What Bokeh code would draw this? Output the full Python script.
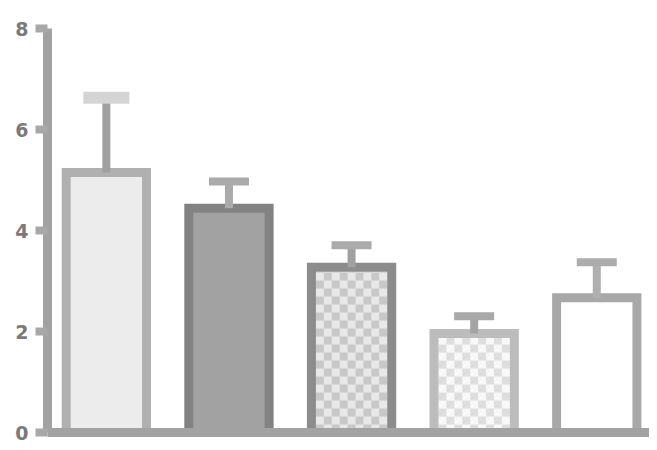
import numpy as np
from bokeh.plotting import figure
from bokeh.models import Range1d, FixedTicker
from bokeh.embed import file_html
from bokeh.resources import INLINE

# ---- data ----
groups = [0, 1, 2, 3, 4]
means = [5.15, 4.44, 3.27, 1.96, 2.67]
uppers = [6.63, 4.97, 3.71, 2.30, 3.37]
y_ticks = [0, 2, 4, 6, 8]

styles = [
    dict(fill="#ececec", line="#b0b0b0", checker=None),
    dict(fill="#a2a2a2", line="#828282", checker=None),
    dict(fill="#e8e8e8", line="#8c8c8c", checker="#c8c8c8"),
    dict(fill="#f8f8f8", line="#bcbcbc", checker="#dedede"),
    dict(fill="#ffffff", line="#a8a8a8", checker=None),
]
stem_colors = ["#a0a0a0", "#ababab", "#a0a0a0", "#a4a4a4", "#b0b0b0"]
cap_colors = ["#d4d4d4", "#ababab", "#ababab", "#a8a8a8", "#acacac"]
cap_w = [46, 40, 40, 40, 40]
cap_h = [12, 8, 8, 8, 8]

X0, X1 = -0.48, 4.43
W, H = 649, 446
LEFT, TOP, BOTTOM = 47, 28, 14
px_x = (W - LEFT) / (X1 - X0)          # pixels per x unit
px_y = (H - TOP - BOTTOM) / 8.0        # pixels per y unit
BAR_W = 0.655
LW = 9

p = figure(width=W, height=H, output_backend="svg", toolbar_location=None,
           x_range=Range1d(X0, X1), y_range=Range1d(0, 8),
           min_border_left=LEFT, min_border_right=0, min_border_top=TOP, min_border_bottom=BOTTOM)
p.outline_line_color = None
p.grid.visible = False

cell = 8.0
for i in groups:
    s = styles[i]
    p.vbar(x=[groups[i]], top=[means[i]], bottom=0, width=BAR_W,
           fill_color=s["fill"], line_color=None)
    if s["checker"]:
        cw, ch = cell / px_x, cell / px_y
        inner_half = BAR_W / 2 - (LW / 2) / px_x
        inner_top = means[i] - (LW / 2) / px_y
        ncol = int(round(2 * inner_half / cw))
        cw = 2 * inner_half / ncol
        nrow = int(np.ceil(inner_top / ch))
        xs, ys, hs = [], [], []
        for r in range(nrow):
            yb = r * ch
            yt = min((r + 1) * ch, inner_top)
            for c in range(ncol):
                if (r + c) % 2 == 0:
                    xs.append(groups[i] - inner_half + (c + 0.5) * cw)
                    ys.append((yb + yt) / 2)
                    hs.append(yt - yb)
        p.rect(x=xs, y=ys, width=cw, height=hs, fill_color=s["checker"], line_color=None)
    p.vbar(x=[groups[i]], top=[means[i]], bottom=0, width=BAR_W,
           fill_color=None, line_color=s["line"], line_width=LW, line_join="miter")
    p.segment(x0=[groups[i]], y0=[means[i]], x1=[groups[i]], y1=[uppers[i]],
              line_color=stem_colors[i], line_width=8)
    p.rect(x=[groups[i]], y=[uppers[i]], width=cap_w[i], height=cap_h[i], width_units="screen",
           height_units="screen", fill_color=cap_colors[i], line_color=None)

ya = p.yaxis[0]
ya.ticker = FixedTicker(ticks=y_ticks)
ya.axis_line_color = "#a2a2a2"
ya.axis_line_width = 9
ya.major_tick_line_color = "#a8a8a8"
ya.major_tick_line_width = 8
ya.major_tick_out = 12
ya.major_tick_in = 0
ya.minor_tick_line_color = None
ya.major_label_text_font = "DejaVu Sans"
ya.major_label_text_font_size = "19px"
ya.major_label_text_font_style = "bold"
ya.major_label_text_color = "#7a7a7a"
ya.major_label_standoff = 7

xa = p.xaxis[0]
xa.ticker = FixedTicker(ticks=[])
xa.axis_line_color = "#a2a2a2"
xa.axis_line_width = 9
xa.major_tick_line_color = None
xa.minor_tick_line_color = None
xa.major_label_standoff = 0

open("out.html", "w").write(file_html(p, INLINE))
